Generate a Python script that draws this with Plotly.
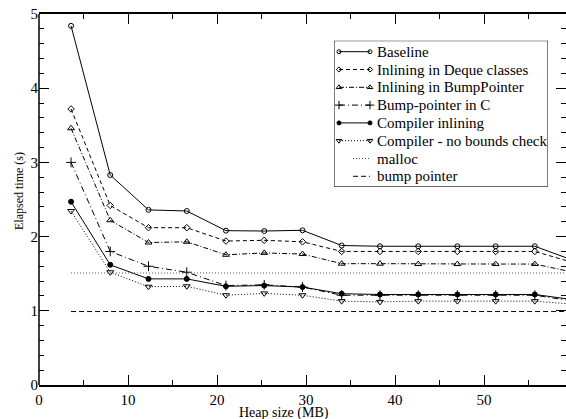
import plotly.graph_objects as go

heap_mb = [3.6, 8.0, 12.3, 16.6, 21.0, 25.3, 29.6, 34.0, 38.3, 42.6, 47.0, 51.3, 55.7, 60.0]

baseline = [4.84, 2.83, 2.36, 2.345, 2.08, 2.075, 2.085, 1.88, 1.87, 1.87, 1.87, 1.87, 1.87, 1.68]
deque_inl = [3.72, 2.42, 2.12, 2.12, 1.94, 1.95, 1.93, 1.80, 1.80, 1.80, 1.80, 1.80, 1.80, 1.65]
bp_inl = [3.46, 2.22, 1.92, 1.93, 1.755, 1.78, 1.765, 1.635, 1.635, 1.63, 1.63, 1.63, 1.63, 1.52]
bp_c = [3.0, 1.80, 1.60, 1.52, 1.34, 1.35, 1.32, 1.21, 1.21, 1.21, 1.21, 1.21, 1.21, 1.13]
compiler = [2.47, 1.62, 1.43, 1.43, 1.33, 1.34, 1.32, 1.23, 1.22, 1.22, 1.22, 1.22, 1.22, 1.15]
no_bounds = [2.345, 1.52, 1.325, 1.33, 1.21, 1.235, 1.21, 1.13, 1.12, 1.13, 1.13, 1.13, 1.13, 1.09]
malloc_level = 1.51
bump_level = 0.99

names = ["Baseline", "Inlining in Deque classes", "Inlining in BumpPointer",
         "Bump-pointer in C", "Compiler inlining", "Compiler - no bounds check",
         "malloc", "bump pointer"]
x_ticks = [0, 10, 20, 30, 40, 50]
y_ticks = [0, 1, 2, 3, 4, 5]
x_title = "Heap size (MB)"
y_title = "Elapsed time (s)"

series = [baseline, deque_inl, bp_inl, bp_c, compiler, no_bounds]
symbols = ["circle-open", "diamond-open", "triangle-up-open", "cross-thin-open", "circle", "triangle-down-open"]
sizes = [5, 5, 6, 7, 5, 6]
dashes = ["solid", "4px,3px", "5px,2px,1px,2px", "6px,3px,1px,3px", "solid", "1px,2px"]
ref_levels = [malloc_level, bump_level]
ref_colors = ["#555555", "black"]
ref_dashes = ["1px,2px", "5px,3px"]

font = "Liberation Serif, Times New Roman, serif"
W, H = 566, 419
PX0, PX1, PY0, PY1 = 39, 566, 14, 385
PW, PH = PX1 - PX0, PY1 - PY0

fig = go.Figure()

for n, s, sym, sz, d in zip(names[:6], series, symbols, sizes, dashes):
    fig.add_trace(go.Scatter(
        x=heap_mb, y=s, name=n, mode="lines+markers", showlegend=False,
        line=dict(color="black", width=1, dash=d),
        marker=dict(symbol=sym, size=sz, color="black", line=dict(color="black", width=1)),
    ))
for n, lv, c, d in zip(names[6:], ref_levels, ref_colors, ref_dashes):
    fig.add_trace(go.Scatter(x=[heap_mb[0], heap_mb[-1]], y=[lv, lv], name=n, mode="lines",
                             showlegend=False, line=dict(color=c, width=1, dash=d)))

# custom legend on an overlay axis measured in pixels
LX0, LX1, LY0, LY1 = 334, 548, 40.7, 186.7
row_y0, row_dy = 51.7, 17.8
for i, n in enumerate(names):
    yy = row_y0 + row_dy * i
    if i < 6:
        fig.add_trace(go.Scatter(
            x=[339, 370], y=[yy, yy], mode="lines+markers", showlegend=False, hoverinfo="skip",
            xaxis="x2", yaxis="y2",
            line=dict(color="black", width=1, dash=dashes[i]),
            marker=dict(symbol=symbols[i], size=sizes[i] - 1, color="black", line=dict(color="black", width=1)),
        ))
    else:
        j = i - 6
        fig.add_trace(go.Scatter(
            x=[353, 370], y=[yy, yy], mode="lines", showlegend=False, hoverinfo="skip",
            xaxis="x2", yaxis="y2", line=dict(color=ref_colors[j], width=1, dash=ref_dashes[j]),
        ))
    fig.add_annotation(x=375, y=yy, xref="x2", yref="y2", text=n, showarrow=False,
                       xanchor="left", yanchor="middle", font=dict(family=font, size=15, color="black"))

fig.add_shape(type="rect", xref="x2", yref="y2", x0=LX0, x1=LX1, y0=LY0, y1=LY1,
              line=dict(color="black", width=1), fillcolor="white", layer="below")

# left axis line (right side shows ticks only)
fig.add_shape(type="line", xref="paper", yref="paper", x0=0, x1=0, y0=0, y1=1,
              line=dict(color="black", width=1.5))

# axis titles (paper coordinates, placed outside the plot area)
fig.add_annotation(x=27.5, y=(PY1 - 413) / PH, xref="x", yref="paper", text=x_title, showarrow=False,
                   xanchor="center", yanchor="middle", font=dict(family=font, size=14, color="black"))
fig.add_annotation(x=(19 - PX0) / PW, y=(PY1 - 191) / PH, xref="paper", yref="paper", text=y_title,
                   showarrow=False, textangle=-90,
                   xanchor="center", yanchor="middle", font=dict(family=font, size=12, color="black"))

fig.update_layout(
    width=W, height=H,
    margin=dict(l=PX0, r=W - PX1, t=PY0, b=H - PY1),
    paper_bgcolor="white", plot_bgcolor="white",
    font=dict(family=font, size=15, color="black"),
    showlegend=False,
    xaxis=dict(range=[0, 59.2], tickvals=x_ticks, ticks="inside", ticklen=10,
               tickwidth=1, tickcolor="black", showline=True, linecolor="black", linewidth=1.5,
               mirror="ticks", showgrid=False, zeroline=False,
               minor=dict(dtick=5, tick0=0, ticks="inside", ticklen=5, tickcolor="black", showgrid=False),
               tickfont=dict(size=15)),
    yaxis=dict(range=[0, 5], tickvals=y_ticks, ticks="inside", ticklen=10,
               tickwidth=1, tickcolor="black", showline=False,
               mirror="ticks", showgrid=False, zeroline=False,
               minor=dict(dtick=0.2, tick0=0, ticks="inside", ticklen=5, tickcolor="black", showgrid=False),
               tickfont=dict(size=15)),
    xaxis2=dict(domain=[(LX0 - PX0) / PW, (LX1 - PX0) / PW], range=[LX0, LX1],
                visible=False, anchor="y2", fixedrange=True),
    yaxis2=dict(domain=[(PY1 - LY1) / PH, (PY1 - LY0) / PH], range=[LY1, LY0],
                visible=False, anchor="x2", fixedrange=True),
)

fig.write_html("out.html", config={"displayModeBar": False},
               post_script="document.body.style.margin='0';document.body.style.overflow='hidden';")
